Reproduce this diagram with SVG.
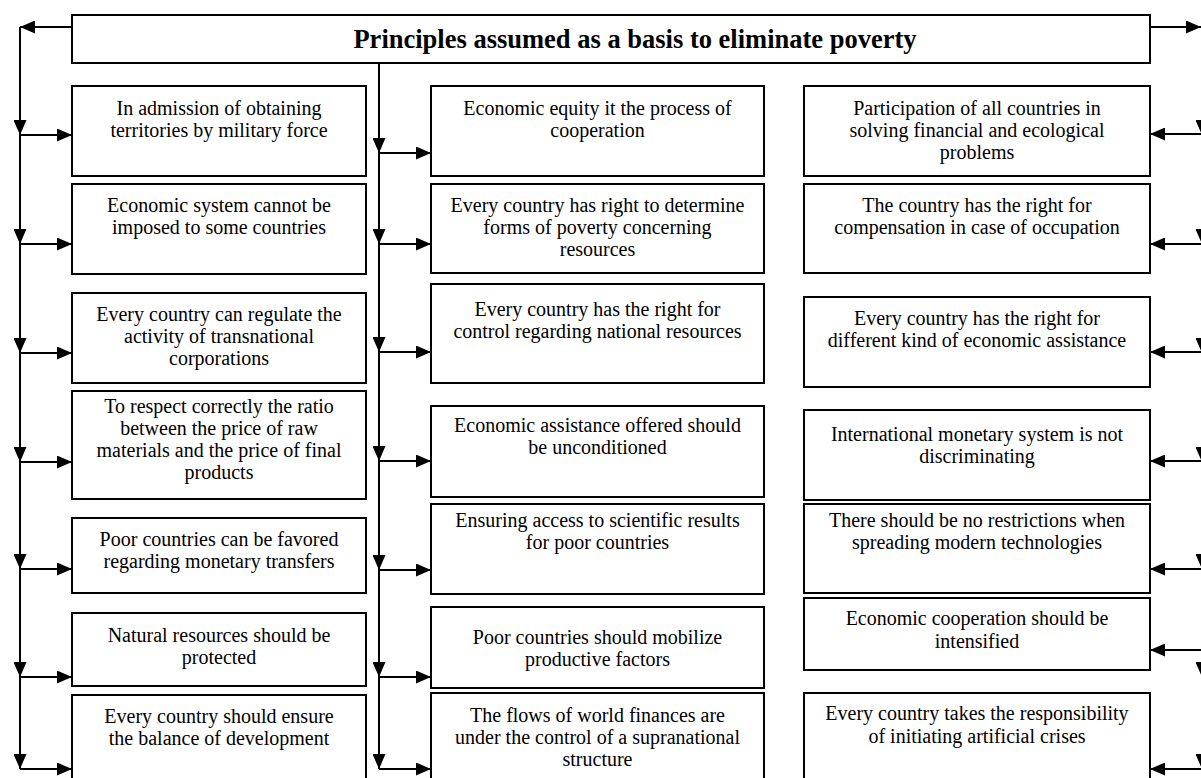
<svg xmlns="http://www.w3.org/2000/svg" width="1201" height="778" viewBox="0 0 1201 778">
<style>
.box{fill:#fff;stroke:#000;stroke-width:2}
.t{font-family:"Liberation Serif","Times New Roman",serif;font-size:20px;fill:#000;text-anchor:middle}
.title{font-family:"Liberation Serif","Times New Roman",serif;font-size:26.5px;font-weight:bold;fill:#000;text-anchor:middle}
.c{fill:none;stroke:#000;stroke-width:2;marker-end:url(#ah)}
</style>
<defs>
<marker id="ah" markerUnits="userSpaceOnUse" viewBox="0 0 15 13" markerWidth="15" markerHeight="13" refX="15" refY="6.5" orient="auto">
<path d="M0,0 L15,6.5 L0,13 z" fill="#000"/>
</marker>
</defs>
<g id="connectors">
<path class="c" d="M72,27 H20"/>
<path class="c" d="M1150,27 H1201"/>
<path class="c" d="M20,27 V135"/><path class="c" d="M20,135 V244"/><path class="c" d="M20,244 V353"/><path class="c" d="M20,353 V462"/><path class="c" d="M20,462 V569"/><path class="c" d="M20,569 V677"/><path class="c" d="M20,677 V769"/>
<path class="c" d="M20,135 H72"/><path class="c" d="M20,244 H72"/><path class="c" d="M20,353 H72"/><path class="c" d="M20,462 H72"/><path class="c" d="M20,569 H72"/><path class="c" d="M20,677 H72"/><path class="c" d="M20,769 H72"/>
<path class="c" d="M379,63 V153"/><path class="c" d="M379,153 V244"/><path class="c" d="M379,244 V352"/><path class="c" d="M379,352 V461"/><path class="c" d="M379,461 V570"/><path class="c" d="M379,570 V677"/><path class="c" d="M379,677 V769"/>
<path class="c" d="M379,153 H431"/><path class="c" d="M379,244 H431"/><path class="c" d="M379,352 H431"/><path class="c" d="M379,461 H431"/><path class="c" d="M379,570 H431"/><path class="c" d="M379,677 H431"/><path class="c" d="M379,769 H431"/>
<path class="c" d="M1202,27 V135"/><path class="c" d="M1202,135 V244"/><path class="c" d="M1202,244 V353"/><path class="c" d="M1202,353 V462"/><path class="c" d="M1202,462 V569"/><path class="c" d="M1202,569 V677"/><path class="c" d="M1202,677 V769"/>
<path class="c" d="M1202,134 H1150"/><path class="c" d="M1202,244 H1150"/><path class="c" d="M1202,352 H1150"/><path class="c" d="M1202,461 H1150"/><path class="c" d="M1202,569 H1150"/><path class="c" d="M1202,650 H1150"/><path class="c" d="M1202,769 H1150"/>
</g>
<g id="title"><rect class="box" x="72" y="15" width="1078" height="48"/><text class="title" x="635" y="48">Principles assumed as a basis to eliminate poverty</text></g>
<g id="L1"><rect class="box" x="72" y="86" width="294" height="90"/><text class="t" x="219" y="115">In admission of obtaining</text><text class="t" x="219" y="137">territories by military force</text></g>
<g id="L2"><rect class="box" x="72" y="184" width="294" height="90"/><text class="t" x="219" y="212">Economic system cannot be</text><text class="t" x="219" y="234">imposed to some countries</text></g>
<g id="L3"><rect class="box" x="72" y="293" width="294" height="90"/><text class="t" x="219" y="321">Every country can regulate the</text><text class="t" x="219" y="343">activity of transnational</text><text class="t" x="219" y="365">corporations</text></g>
<g id="L4"><rect class="box" x="72" y="391" width="294" height="108"/><text class="t" x="219" y="413">To respect correctly the ratio</text><text class="t" x="219" y="435">between the price of raw</text><text class="t" x="219" y="457">materials and the price of final</text><text class="t" x="219" y="479">products</text></g>
<g id="L5"><rect class="box" x="72" y="518" width="294" height="75"/><text class="t" x="219" y="546">Poor countries can be favored</text><text class="t" x="219" y="568">regarding monetary transfers</text></g>
<g id="L6"><rect class="box" x="72" y="613" width="294" height="73"/><text class="t" x="219" y="642">Natural resources should be</text><text class="t" x="219" y="664">protected</text></g>
<g id="L7"><rect class="box" x="72" y="695" width="294" height="95"/><text class="t" x="219" y="723">Every country should ensure</text><text class="t" x="219" y="745">the balance of development</text></g>
<g id="M1"><rect class="box" x="431" y="86" width="333" height="90"/><text class="t" x="597.5" y="115">Economic equity it the process of</text><text class="t" x="597.5" y="137">cooperation</text></g>
<g id="M2"><rect class="box" x="431" y="184" width="333" height="89"/><text class="t" x="597.5" y="212">Every country has right to determine</text><text class="t" x="597.5" y="234">forms of poverty concerning</text><text class="t" x="597.5" y="256">resources</text></g>
<g id="M3"><rect class="box" x="431" y="284" width="333" height="99"/><text class="t" x="597.5" y="316">Every country has the right for</text><text class="t" x="597.5" y="338">control regarding national resources</text></g>
<g id="M4"><rect class="box" x="431" y="406" width="333" height="91"/><text class="t" x="597.5" y="432">Economic assistance offered should</text><text class="t" x="597.5" y="454">be unconditioned</text></g>
<g id="M5"><rect class="box" x="431" y="504" width="333" height="90"/><text class="t" x="597.5" y="527">Ensuring access to scientific results</text><text class="t" x="597.5" y="549">for poor countries</text></g>
<g id="M6"><rect class="box" x="431" y="607" width="333" height="81"/><text class="t" x="597.5" y="644">Poor countries should mobilize</text><text class="t" x="597.5" y="666">productive factors</text></g>
<g id="M7"><rect class="box" x="431" y="693" width="333" height="97"/><text class="t" x="597.5" y="722">The flows of world finances are</text><text class="t" x="597.5" y="744">under the control of a supranational</text><text class="t" x="597.5" y="766">structure</text></g>
<g id="R1"><rect class="box" x="804" y="86" width="346" height="90"/><text class="t" x="977" y="115">Participation of all countries in</text><text class="t" x="977" y="137">solving financial and ecological</text><text class="t" x="977" y="159">problems</text></g>
<g id="R2"><rect class="box" x="804" y="184" width="346" height="89"/><text class="t" x="977" y="212">The country has the right for</text><text class="t" x="977" y="234">compensation in case of occupation</text></g>
<g id="R3"><rect class="box" x="804" y="297" width="346" height="90"/><text class="t" x="977" y="325">Every country has the right for</text><text class="t" x="977" y="347">different kind of economic assistance</text></g>
<g id="R4"><rect class="box" x="804" y="410" width="346" height="90"/><text class="t" x="977" y="441">International monetary system is not</text><text class="t" x="977" y="463">discriminating</text></g>
<g id="R5"><rect class="box" x="804" y="504" width="346" height="89"/><text class="t" x="977" y="527">There should be no restrictions when</text><text class="t" x="977" y="549">spreading modern technologies</text></g>
<g id="R6"><rect class="box" x="804" y="598" width="346" height="72"/><text class="t" x="977" y="625">Economic cooperation should be</text><text class="t" x="977" y="648">intensified</text></g>
<g id="R7"><rect class="box" x="804" y="693" width="346" height="97"/><text class="t" x="977" y="720">Every country takes the responsibility</text><text class="t" x="977" y="743">of initiating artificial crises</text></g>
</svg>
